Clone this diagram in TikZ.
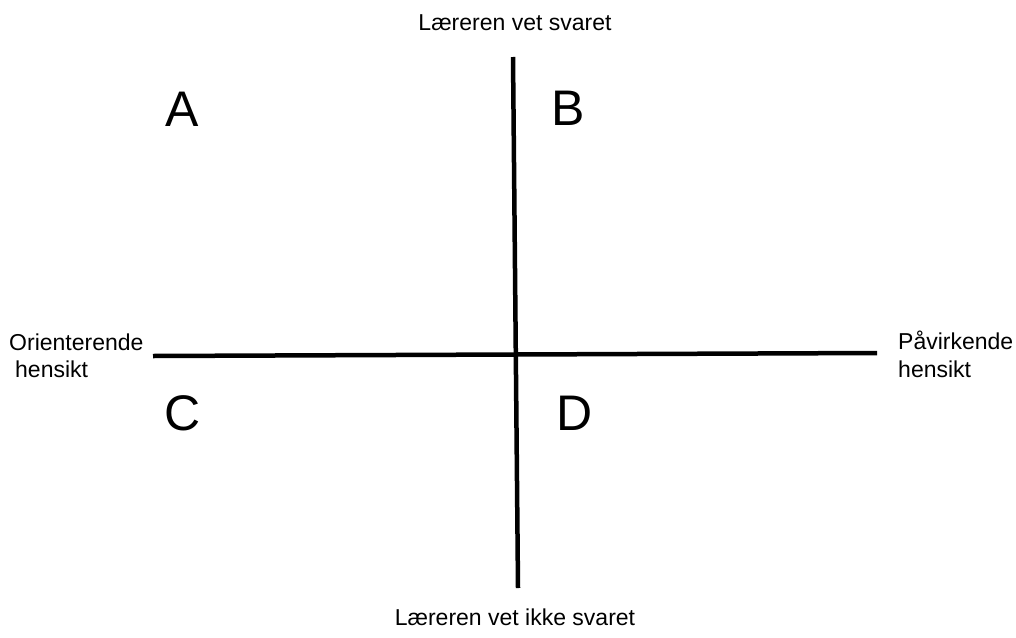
\documentclass[tikz,border=0pt]{standalone}
\usepackage{fontspec}
\setmainfont{Liberation Sans}
\begin{document}
\begin{tikzpicture}[x=1pt,y=-1pt,
  axis/.style={line width=4.5pt},
  lbl/.style={inner sep=0pt,font=\fontsize{23}{27}\selectfont},
  quad/.style={inner sep=0pt,anchor=base,font=\fontsize{50}{60}\selectfont}]
\useasboundingbox (0,0) rectangle (1016,637);
\coordinate (top) at (513,57);
\coordinate (bot) at (518,588);
\coordinate (lft) at (153,356);
\coordinate (rgt) at (877,353);
\draw[axis] (top) -- (bot);
\draw[axis] (lft) -- (rgt);
\node[lbl,anchor=base] (t) at (515,30) {Læreren vet svaret};
\node[lbl,anchor=base] (b) at (515,625) {Læreren vet ikke svaret};
\node[lbl,anchor=base west] (l1) at (9,350) {Orienterende};
\node[lbl,anchor=base west] (l2) at (15,377) {hensikt};
\node[lbl,anchor=base west] (r1) at (898,349) {Påvirkende};
\node[lbl,anchor=base west] (r2) at (898,377) {hensikt};
\node[quad] (A) at (182,126) {A};
\node[quad] (B) at (568,125) {B};
\node[quad] (C) at (183,430) {C};
\node[quad] (D) at (575,430) {D};
\end{tikzpicture}
\end{document}
